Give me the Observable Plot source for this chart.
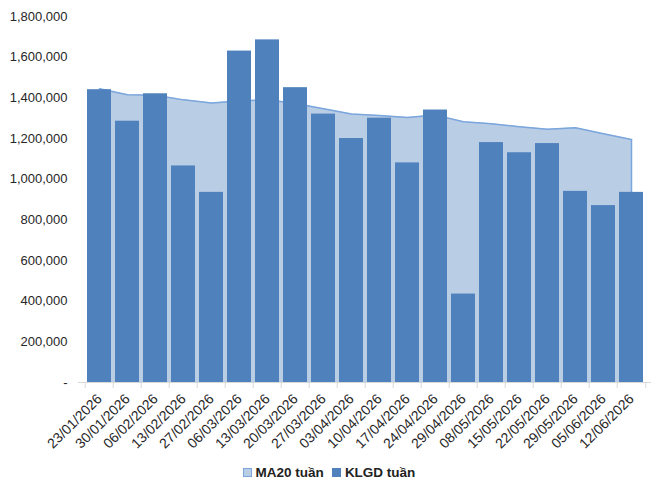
<!DOCTYPE html>
<html>
<head>
<meta charset="utf-8">
<script src="https://cdn.jsdelivr.net/npm/d3@7"></script>
<script src="https://cdn.jsdelivr.net/npm/@observablehq/plot@0.6"></script>
<style>
  body { margin: 0; background: #fff; font-family: "Liberation Sans", Arial, sans-serif; }
  #chart { width: 656px; }
  #legend { display: flex; justify-content: center; align-items: center; gap: 8px; font: bold 13.5px "Liberation Sans", Arial, sans-serif; color: #222; height: 28px; margin-left: 2px; }
  .item { display: flex; align-items: center; gap: 4px; }
  .sw { width: 7px; height: 7px; display: inline-block; }
</style>
</head>
<body>
<div id="chart"></div>
<script>
const dates = ["23/01/2026","30/01/2026","06/02/2026","13/02/2026","27/02/2026","06/03/2026","13/03/2026","20/03/2026","27/03/2026","03/04/2026","10/04/2026","17/04/2026","24/04/2026","29/04/2026","08/05/2026","15/05/2026","22/05/2026","29/05/2026","05/06/2026","12/06/2026"];
const klgd = [1440000,1285000,1420000,1065000,935000,1630000,1685000,1450000,1320000,1200000,1300000,1080000,1340000,435000,1180000,1130000,1175000,940000,870000,935000];
const ma20 = [1445000,1415000,1413000,1390000,1375000,1385000,1390000,1372000,1346000,1320000,1313000,1303000,1315000,1282000,1272000,1258000,1245000,1253000,1223000,1195000];
const yTicks = [0,200000,400000,600000,800000,1000000,1200000,1400000,1600000,1800000];
const seriesNames = ["MA20 tuần", "KLGD tuần"];

const data = dates.map((d, i) => ({date: d, klgd: klgd[i], ma: ma20[i]}));

const W = 656, H = 458, mL = 78, mR = 5, mT = 16, mB = 76;
const step = (W - mL - mR) / dates.length;
const barColor = "#4F81BD", areaFill = "#B9CDE5", areaStroke = "#7AA5DD";

const plot = Plot.plot({
  width: W, height: H,
  marginLeft: mL, marginRight: mR, marginTop: mT, marginBottom: mB,
  style: {fontFamily: "'Liberation Sans', Arial, sans-serif", fontSize: "13px", color: "#262626", background: "#fff"},
  x: {type: "band", domain: dates, paddingInner: 0.16, paddingOuter: 0.08, label: null},
  y: {domain: [0, 1800000], label: null},
  marks: [
    Plot.areaY(data, {x: "date", y: "ma", fill: areaFill}),
    Plot.lineY(data, {x: "date", y: "ma", stroke: areaStroke, strokeWidth: 1.5}),
    Plot.ruleX([dates[dates.length - 1]], {x: d => d, y1: 0, y2: ma20[ma20.length - 1], stroke: areaStroke, strokeWidth: 1.5}),
    Plot.barY(data, {x: "date", y: "klgd", fill: barColor}),
    Plot.ruleY([0], {stroke: "#D9D9D9", strokeWidth: 1}),
    Plot.ruleX(dates, {x: d => d, y1: 0, y2: 0, insetBottom: -6, dx: -step / 2, stroke: "#D9D9D9"}),
    Plot.ruleX([dates[dates.length - 1]], {x: d => d, y1: 0, y2: 0, insetBottom: -6, dx: step / 2, stroke: "#D9D9D9"}),
    Plot.axisY({ticks: yTicks, tickSize: 0, tickPadding: 11, tickFormat: d => d === 0 ? "-" : d3.format(",")(d), fontSize: 13}),
    Plot.axisX({tickSize: 0, tickPadding: 14, tickRotate: -45, fontSize: 14})
  ]
});
document.getElementById("chart").appendChild(plot);

const legend = document.createElement("div");
legend.id = "legend";
const swatches = [{fill: areaFill, border: "#7AA5DD"}, {fill: barColor, border: barColor}];
seriesNames.forEach((name, i) => {
  const item = document.createElement("span");
  item.className = "item";
  const sw = document.createElement("span");
  sw.className = "sw";
  sw.style.background = swatches[i].fill;
  sw.style.border = "1px solid " + swatches[i].border;
  item.appendChild(sw);
  const t = document.createElement("span");
  t.textContent = name;
  item.appendChild(t);
  legend.appendChild(item);
});
document.body.appendChild(legend);
</script>
</body>
</html>
